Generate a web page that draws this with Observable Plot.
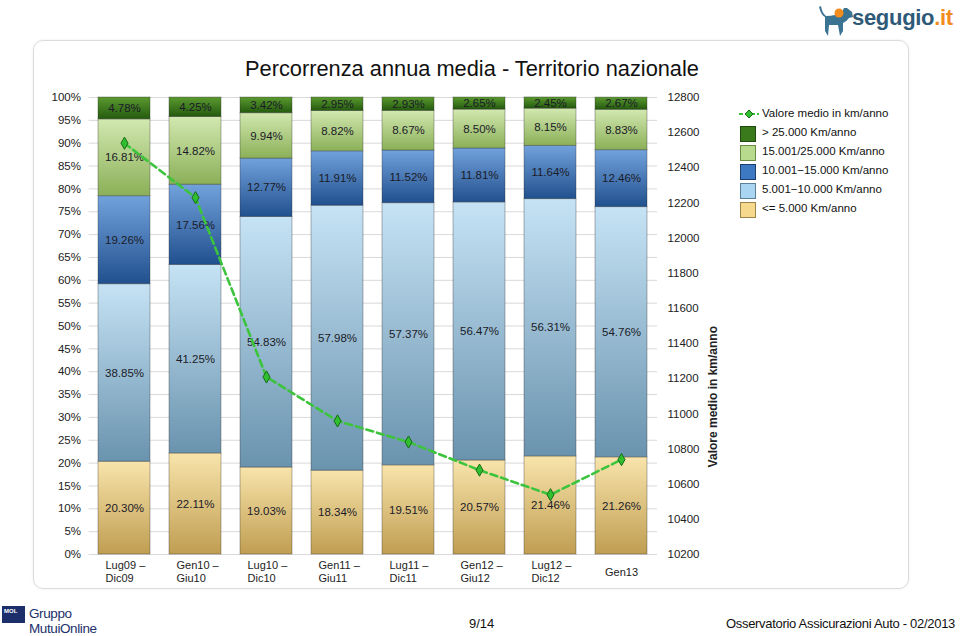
<!DOCTYPE html>
<html><head><meta charset="utf-8">
<script src="https://cdn.jsdelivr.net/npm/d3@7"></script>
<script src="https://cdn.jsdelivr.net/npm/@observablehq/plot@0.6"></script>
<style>
body{margin:0;background:#fff;font-family:"Liberation Sans",Arial,sans-serif;}
#wrap{position:relative;width:960px;height:636px;overflow:hidden;}
#panel{position:absolute;left:33px;top:40px;width:874px;height:547px;border:1px solid #dcdcdc;border-radius:10px;box-shadow:0 0 3px rgba(0,0,0,0.08);}
.abs{position:absolute;white-space:nowrap;}
#chart,#overlay{position:absolute;left:0;top:0;}
.lg{position:absolute;left:762px;font-size:11.5px;color:#111;font-family:"Liberation Sans",Arial,sans-serif;}
.sw{position:absolute;left:740px;width:14px;height:14px;border:1px solid #333;}
</style></head><body>
<div id="wrap">
  <div id="panel"></div>
  <div class="abs" style="left:0;width:944px;top:56px;text-align:center;font-size:21.8px;color:#111;">Percorrenza annua media - Territorio nazionale</div>
  <div id="chart"></div>
  <div id="overlay"></div>

  <svg class="abs" style="left:739px;top:109px" width="20" height="10">
    <line x1="0" y1="5" x2="20" y2="5" stroke="#38c238" stroke-width="2" stroke-dasharray="4,2"/>
    <path d="M10,1 L14,5 L10,9 L6,5 Z" fill="#2fbf2f" stroke="#176b17" stroke-width="1"/>
  </svg>
  <div class="lg" style="top:107px">Valore medio in km/anno</div>
  <div class="sw" style="top:126px;background:#3a7a1c;border-color:#1f4a0c"></div>
  <div class="lg" style="top:126px">&gt; 25.000 Km/anno</div>
  <div class="sw" style="top:145px;background:#b8da8c;border-color:#6b8a45"></div>
  <div class="lg" style="top:145px">15.001/25.000 Km/anno</div>
  <div class="sw" style="top:164px;background:#3d78c2;border-color:#1d3f70"></div>
  <div class="lg" style="top:164px">10.001−15.000 Km/anno</div>
  <div class="sw" style="top:183px;background:#a9d5f2;border-color:#5a7f98"></div>
  <div class="lg" style="top:183px">5.001−10.000 Km/anno</div>
  <div class="sw" style="top:202px;background:#f6d98c;border-color:#9a8248"></div>
  <div class="lg" style="top:202px">&lt;= 5.000 Km/anno</div>

  <svg class="abs" style="left:816px;top:3px" width="38" height="34" viewBox="0 0 38 34">
    <path d="M3,4 Q5,12 9,14 L9,28 L12,33 L13,22 L22,22 L24,33 L27,28 L27,20 Q31,18 33,15 L37,14 L36,9 L31,5 L28,5 L26,9 Q20,13 10,13 Q6,10 5,3 Z" fill="#3b7393"/>
    <circle cx="23" cy="10" r="4.5" fill="#f28c1e"/>
  </svg>
  <div class="abs" style="left:852px;top:5px;font-size:22px;font-weight:bold;color:#2e5a78;letter-spacing:-0.3px">segugio<span style="color:#f28c1e">.it</span></div>

  <div class="abs" style="left:2px;top:606px;width:23px;height:17px;background:#1c2f6b;color:#fff;font-size:6px;font-weight:bold;line-height:10px;padding-left:2px;box-sizing:border-box">MOL</div>
  <div class="abs" style="left:29px;top:606px;font-size:13.5px;line-height:15px;color:#1c2f6b;letter-spacing:-0.4px">Gruppo<br>MutuiOnline</div>
  <div class="abs" style="left:469px;top:616px;font-size:13px;color:#111">9/14</div>
  <div class="abs" style="right:5px;top:616px;font-size:13px;color:#111;letter-spacing:-0.3px">Osservatorio Assicurazioni Auto - 02/2013</div>
</div>
<script>
const categories = ["Lug09 –\nDic09", "Gen10 –\nGiu10", "Lug10 –\nDic10", "Gen11 –\nGiu11", "Lug11 –\nDic11", "Gen12 –\nGiu12", "Lug12 –\nDic12", "Gen13"];
const seriesNames = ["<= 5.000 Km/anno", "5.001-10.000 Km/anno", "10.001-15.000 Km/anno", "15.001/25.000 Km/anno", "> 25.000 Km/anno"];
const upTo5000 = [20.30, 22.11, 19.03, 18.34, 19.51, 20.57, 21.46, 21.26];
const from5001to10000 = [38.85, 41.25, 54.83, 57.98, 57.37, 56.47, 56.31, 54.76];
const from10001to15000 = [19.26, 17.56, 12.77, 11.91, 11.52, 11.81, 11.64, 12.46];
const from15001to25000 = [16.81, 14.82, 9.94, 8.82, 8.67, 8.50, 8.15, 8.83];
const over25000 = [4.78, 4.25, 3.42, 2.95, 2.93, 2.65, 2.45, 2.67];
const averageKm = [12540, 12230, 11210, 10960, 10840, 10680, 10540, 10740];
const pctTicks = [0,5,10,15,20,25,30,35,40,45,50,55,60,65,70,75,80,85,90,95,100];
const kmTicks = [10200,10400,10600,10800,11000,11200,11400,11600,11800,12000,12200,12400,12600,12800];

const seriesValues = [upTo5000, from5001to10000, from10001to15000, from15001to25000, over25000];
const rows = [];
categories.forEach((c, i) => seriesValues.forEach((arr, s) => rows.push({cat: c, series: seriesNames[s], value: arr[i]})));
const lineRows = categories.map((c, i) => ({cat: c, km: averageKm[i]}));

const gradients = [
  ["g0", "#f8e4ab", "#c09e52"],
  ["g1", "#c6e3f5", "#6a93ae"],
  ["g2", "#72a2dc", "#21508e"],
  ["g3", "#d2e8b0", "#8bb058"],
  ["g4", "#5b9a30", "#245a0e"]
];

const common = {
  width: 960, height: 636,
  marginLeft: 88.5, marginRight: 303, marginTop: 97, marginBottom: 82,
  style: {background: "transparent", fontFamily: "'Liberation Sans', Arial, sans-serif", fontSize: "11px", color: "#222"}
};
const xOpts = {domain: categories, paddingInner: 0.27, paddingOuter: 0.135, axis: null};

const chart = Plot.plot({
  ...common,
  x: xOpts,
  y: {domain: [0, 100], axis: null},
  color: {type: "ordinal", domain: seriesNames, range: gradients.map(g => `url(#${g[0]})`)},
  marks: [
    Plot.ruleY(pctTicks, {stroke: "#d9d9d9", strokeWidth: 1}),
    Plot.barY(rows, {x: "cat", y: "value", fill: "series", stroke: "rgba(40,40,40,0.35)", strokeWidth: 1}),
    Plot.text(rows, Plot.stackY({x: "cat", y: "value", z: "series", text: d => d.value.toFixed(2) + "%", fill: "#1b1b28", fontSize: 11.5})),
    Plot.axisY(pctTicks, {anchor: "left", tickSize: 0, tickPadding: 8, tickFormat: d => d + "%", label: null, fontSize: 11.5, fill: "#222"}),
    Plot.text(categories.filter(c => c.includes("\n")), {x: d => d, text: d => d, frameAnchor: "bottom", lineAnchor: "top", textAnchor: "start", dx: -19, dy: 6, lineHeight: 1.15, fontSize: 11, fill: "#222"}),
    Plot.text(categories.filter(c => !c.includes("\n")), {x: d => d, text: d => d, frameAnchor: "bottom", lineAnchor: "middle", dy: 18, fontSize: 11, fill: "#222"})
  ]
});

const svgNS = "http://www.w3.org/2000/svg";
const defs = document.createElementNS(svgNS, "defs");
gradients.forEach(([id, top, bottom]) => {
  const lg = document.createElementNS(svgNS, "linearGradient");
  lg.setAttribute("id", id);
  lg.setAttribute("x1", "0"); lg.setAttribute("y1", "0");
  lg.setAttribute("x2", "0"); lg.setAttribute("y2", "1");
  [["0", top], ["1", bottom]].forEach(([o, c]) => {
    const st = document.createElementNS(svgNS, "stop");
    st.setAttribute("offset", o); st.setAttribute("stop-color", c);
    lg.appendChild(st);
  });
  defs.appendChild(lg);
});
chart.insertBefore(defs, chart.firstChild);
document.getElementById("chart").appendChild(chart);

const overlay = Plot.plot({
  ...common,
  x: xOpts,
  y: {domain: [10200, 12800], axis: null},
  marks: [
    Plot.line(lineRows, {x: "cat", y: "km", stroke: "#3cc43c", strokeWidth: 2.6, strokeDasharray: "7,4"}),
    Plot.dot(lineRows, {x: "cat", y: "km", symbol: "diamond", r: 3.7, fill: "#2fbf2f", stroke: "#176b17", strokeWidth: 1}),
    Plot.axisY(kmTicks, {anchor: "right", tickSize: 0, tickPadding: 10, tickFormat: d => String(d), label: null, fontSize: 11.5, fill: "#222"}),
    Plot.text(["Valore medio in km/anno"], {frameAnchor: "right", text: d => d, rotate: -90, dx: 56, fontSize: 12, fontWeight: "bold", fill: "#222"})
  ]
});
document.getElementById("overlay").appendChild(overlay);
</script>
</body></html>
